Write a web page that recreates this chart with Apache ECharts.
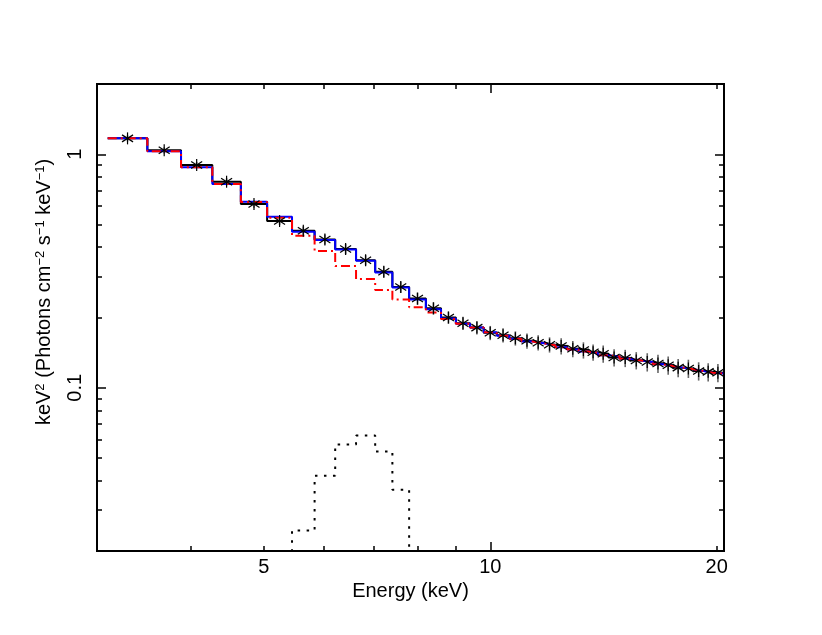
<!DOCTYPE html>
<html>
<head>
<meta charset="utf-8">
<script src="https://cdn.jsdelivr.net/npm/echarts@6/dist/echarts.min.js"></script>
<style>html,body{margin:0;padding:0;background:#fff}#c{width:822px;height:635px}</style>
</head>
<body>
<div id="c"></div>
<script>
// Bin edges (keV)
const edges = [3.10, 3.50, 3.88, 4.27, 4.66, 5.05, 5.45, 5.84, 6.22, 6.63, 7.03, 7.41, 7.80, 8.21, 8.60, 9.00, 9.40, 9.80, 10.20, 10.60, 11.00, 11.38, 11.78, 12.20, 12.65, 13.10, 13.50, 13.90, 14.36, 14.86, 15.37, 15.90, 16.44, 16.98, 17.50, 18.05, 18.63, 19.22, 19.75, 20.40];
// Data (black step + stars)
const dataVals = [1.17, 1.04, 0.90, 0.763, 0.612, 0.518, 0.470, 0.432, 0.393, 0.352, 0.314, 0.270, 0.241, 0.219, 0.200, 0.189, 0.181, 0.172, 0.168, 0.163, 0.159, 0.156, 0.153, 0.151, 0.147, 0.145, 0.142, 0.140, 0.1347, 0.134, 0.131, 0.129, 0.127, 0.125, 0.122, 0.121, 0.118, 0.117, 0.116];
// Fractional error bars on the data
const errFrac = [0.03, 0.03, 0.03, 0.035, 0.035, 0.04, 0.045, 0.05, 0.05, 0.05, 0.055, 0.055, 0.06, 0.06, 0.06, 0.065, 0.065, 0.07, 0.07, 0.07, 0.075, 0.075, 0.075, 0.08, 0.08, 0.08, 0.08, 0.085, 0.085, 0.085, 0.085, 0.09, 0.09, 0.09, 0.09, 0.09, 0.09, 0.09, 0.09];
// Total model (blue)
const modelVals = [1.17, 1.03, 0.88, 0.746, 0.627, 0.540, 0.466, 0.429, 0.391, 0.350, 0.312, 0.269, 0.239, 0.217, 0.198, 0.188, 0.181, 0.173, 0.167, 0.162, 0.158, 0.155, 0.152, 0.149, 0.146, 0.143, 0.141, 0.138, 0.136, 0.133, 0.131, 0.129, 0.126, 0.124, 0.122, 0.120, 0.118, 0.116, 0.115];
// Continuum component (red dash-dot)
const contVals = [1.17, 1.03, 0.88, 0.746, 0.625, 0.535, 0.448, 0.385, 0.332, 0.292, 0.262, 0.239, 0.221, 0.210, 0.197, 0.188, 0.181, 0.173, 0.167, 0.162, 0.158, 0.155, 0.152, 0.149, 0.146, 0.143, 0.141, 0.138, 0.136, 0.133, 0.131, 0.129, 0.126, 0.124, 0.122, 0.120, 0.118, 0.116, 0.115];
// Line component (black dotted)
const lineVals = [null, null, null, null, null, 0.008, 0.0245, 0.0420, 0.0572, 0.0624, 0.0534, 0.0366, 0.018, null, null, null, null, null, null, null, null, null, null, null, null, null, null, null, null, null, null, null, null, null, null, null, null, null, null];
// Axis tick values
const xLabelVals = [5, 10, 20];
const xMinorTicks = [4, 5, 6, 7, 8, 9, 20];
const xMajorTicks = [10];
const yLabelVals = [0.1, 1];
const yMinorTicks = [0.03, 0.04, 0.05, 0.06, 0.07, 0.08, 0.09, 0.2, 0.3, 0.4, 0.5, 0.6, 0.7, 0.8, 0.9];
const yMajorTicks = [0.1, 1];

const FONT = 'Liberation Sans, Arial, Helvetica, sans-serif';

function stepPoints(vals) {
  const pts = [];
  let last = -1;
  for (let i = 0; i < vals.length; i++) {
    if (vals[i] == null) continue;
    pts.push([edges[i], vals[i]]);
    last = i;
  }
  if (last >= 0) pts.push([edges[last + 1], vals[last]]);
  return pts;
}

const starData = dataVals.map((v, i) => [Math.sqrt(edges[i] * edges[i + 1]), v, errFrac[i]]);

const X = { min: 3, max: 20.45 };
const Y = { min: 0.02, max: 2 };
const lineCol = '#000';

function xAx(pos, ticks, len, labels) {
  return {
    type: 'log', position: pos, min: X.min, max: X.max, gridIndex: 0,
    axisLine: { show: true, onZero: false, lineStyle: { color: lineCol, width: 2 } },
    axisTick: { show: true, inside: true, length: len, customValues: ticks, lineStyle: { color: lineCol, width: 1.5 } },
    axisLabel: labels ? { show: true, customValues: xLabelVals, color: '#000', fontSize: 20, fontFamily: FONT, margin: 6 } : { show: false },
    splitLine: { show: false }, minorTick: { show: false }
  };
}
function yAx(pos, ticks, len, labels) {
  return {
    type: 'log', position: pos, min: Y.min, max: Y.max, gridIndex: 0,
    axisLine: { show: true, onZero: false, lineStyle: { color: lineCol, width: 2 } },
    axisTick: { show: true, inside: true, length: len, customValues: ticks, lineStyle: { color: lineCol, width: 1.5 } },
    axisLabel: labels ? { show: true, customValues: yLabelVals, rotate: 90, color: '#000', fontSize: 20, fontFamily: FONT, margin: 12 } : { show: false },
    splitLine: { show: false }, minorTick: { show: false }
  };
}

const xAxes = [xAx('bottom', xMinorTicks, 5, true), xAx('bottom', xMajorTicks, 9, false), xAx('top', xMinorTicks, 5, false), xAx('top', xMajorTicks, 9, false)];
xAxes[0].name = 'Energy (keV)';
xAxes[0].nameLocation = 'middle';
xAxes[0].nameGap = 30;
xAxes[0].nameTextStyle = { color: '#000', fontSize: 20, fontFamily: FONT };
const yAxes = [yAx('left', yMinorTicks, 5, true), yAx('left', yMajorTicks, 9, false), yAx('right', yMinorTicks, 5, false), yAx('right', yMajorTicks, 9, false)];

const chart = echarts.init(document.getElementById('c'), null, { renderer: 'canvas' });
chart.setOption({
  animation: false,
  backgroundColor: '#fff',
  grid: { left: 97, right: 98, top: 84, bottom: 84, containLabel: false },
  xAxis: xAxes,
  yAxis: yAxes,
  graphic: [{
    type: 'text', x: 44, y: 292, rotation: Math.PI / 2,
    style: {
      text: 'keV{s|2} (Photons cm{s|−2} s{s|−1} keV{s|−1})',
      fill: '#000', font: '20px ' + FONT, fontSize: 20, fontFamily: FONT,
      align: 'center', verticalAlign: 'middle',
      rich: { s: { fontSize: 13, fontFamily: FONT, fill: '#000', verticalAlign: 'top', lineHeight: 13 } }
    }
  }],
  series: [
    { type: 'line', name: 'data', data: stepPoints(dataVals), step: 'end', symbol: 'none', clip: true,
      lineStyle: { color: '#000', width: 2 }, z: 2 },
    { type: 'line', name: 'model', data: stepPoints(modelVals), step: 'end', symbol: 'none', clip: true,
      lineStyle: { color: '#0000ff', width: 2 }, z: 3 },
    { type: 'line', name: 'continuum', data: stepPoints(contVals), step: 'end', symbol: 'none', clip: true,
      lineStyle: { color: '#ff0000', width: 2, type: [9, 4, 2, 4] }, z: 4 },
    { type: 'line', name: 'line', data: stepPoints(lineVals), step: 'end', symbol: 'none', clip: true,
      lineStyle: { color: '#000', width: 2, type: [2.5, 6.5] }, z: 4 },
    { type: 'custom', name: 'points', data: starData, clip: true, z: 5,
      renderItem: function (params, api) {
        const x = api.value(0), y = api.value(1), e = api.value(2);
        const p = api.coord([x, y]);
        const ph = api.coord([x, y * (1 + e)]);
        const pl = api.coord([x, y * (1 - e)]);
        const st = { stroke: '#000', lineWidth: 1.2 };
        return { type: 'group', children: [
          { type: 'line', shape: { x1: p[0], y1: ph[1], x2: p[0], y2: pl[1] }, style: { stroke: '#666', lineWidth: 1.6 } },
          { type: 'line', shape: { x1: p[0], y1: p[1] - 6, x2: p[0], y2: p[1] + 6 }, style: st },
          { type: 'line', shape: { x1: p[0] - 5.5, y1: p[1] - 3.5, x2: p[0] + 5.5, y2: p[1] + 3.5 }, style: st },
          { type: 'line', shape: { x1: p[0] - 5.5, y1: p[1] + 3.5, x2: p[0] + 5.5, y2: p[1] - 3.5 }, style: st }
        ] };
      }
    }
  ]
});
</script>
</body>
</html>
